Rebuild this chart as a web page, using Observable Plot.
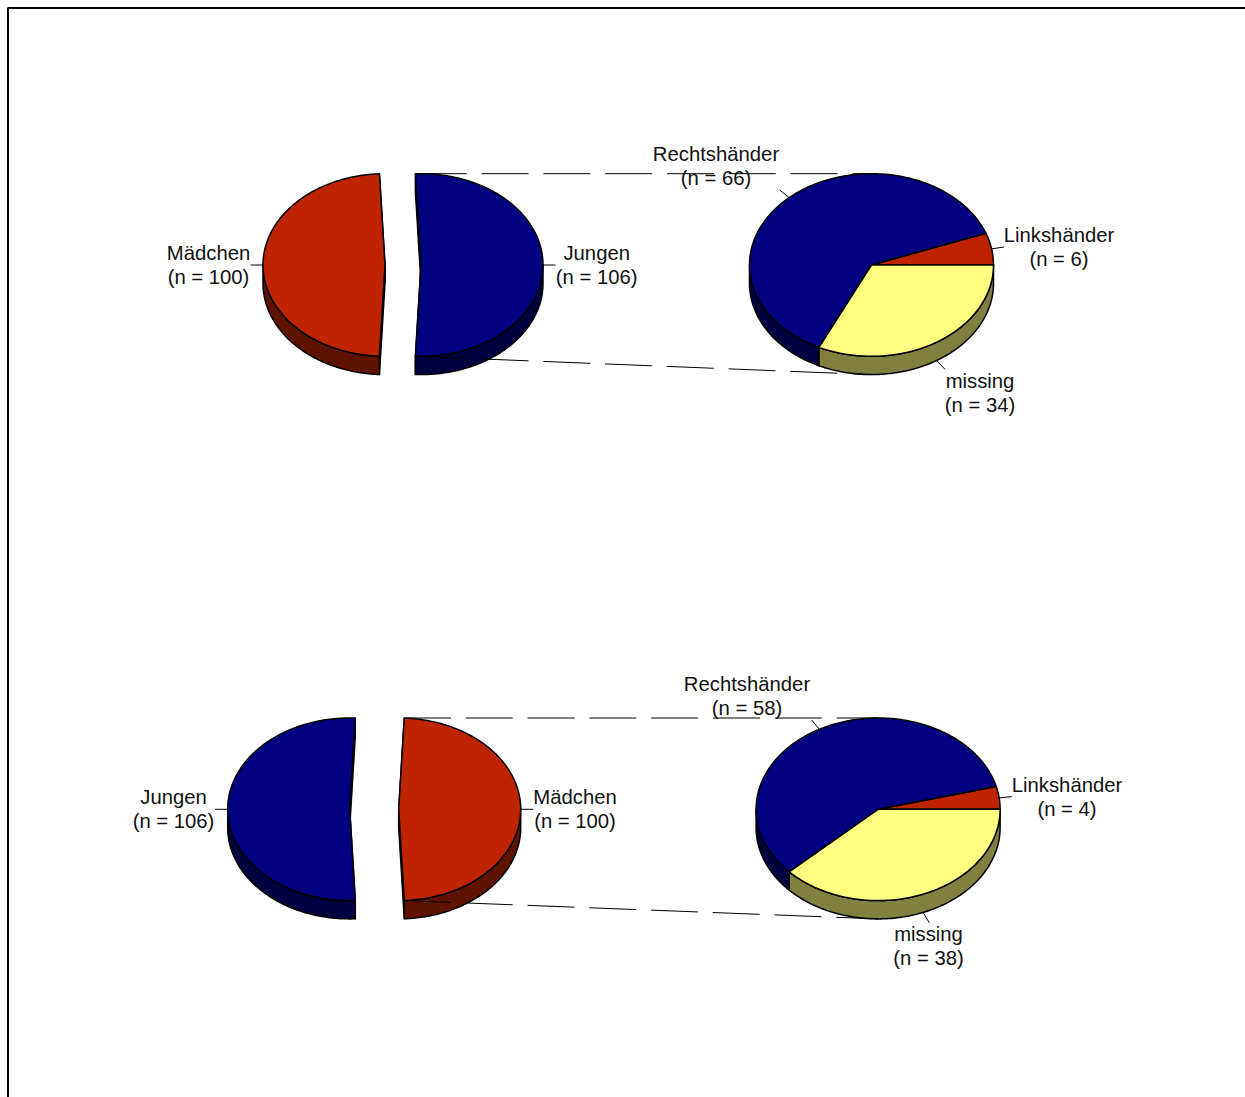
<!DOCTYPE html>
<html lang="de">
<head>
<meta charset="utf-8">
<title>Händigkeit nach Geschlecht</title>
<script src="https://cdn.jsdelivr.net/npm/d3@7"></script>
<script src="https://cdn.jsdelivr.net/npm/@observablehq/plot@0.6"></script>
<style>
  html, body { margin: 0; padding: 0; background: #fff; }
  svg { display: block; }
</style>
</head>
<body>
<div id="chart"></div>
<script>
// Sample sizes shown on the chart
const genderNames = ["Jungen", "Mädchen"];
const genderCountsUpper = [106, 100];
const genderCountsLower = [106, 100];
const handNames = ["Linkshänder", "Rechtshänder", "missing"];
const handCountsUpper = [6, 66, 34];
const handCountsLower = [4, 58, 38];

// Face and wall colours
const faceColors = { Jungen: "#000080", "Mädchen": "#bf2400", Linkshänder: "#bf2400", Rechtshänder: "#000080", missing: "#ffff80" };
const wallColors = { Jungen: "#000040", "Mädchen": "#601200", Linkshänder: "#601200", Rechtshänder: "#000040", missing: "#808040" };

// Pie layout
const WIDTH = 1245, HEIGHT = 1097;
const RX = 122, RY = 91.3, DEPTH = 18.3;
const fontSize = 20.3;

const ringPoint = (p, deg, drop = 0) => {
  const a = deg * Math.PI / 180;
  return [p.cx + RX * Math.cos(a), p.cy - RY * Math.sin(a) + drop];
};
const arc = (p, from, to, drop = 0) => {
  const n = Math.max(1, Math.ceil(Math.abs(to - from)));
  return d3.range(n + 1).map(i => ringPoint(p, from + (to - from) * i / n, drop));
};

// Closed polygon drawn with the line mark
const poly = (pts, fill) => Plot.line(pts, {
  x: d => d[0], y: d => d[1], curve: "linear-closed",
  fill, stroke: "#000", strokeWidth: 1.5, strokeLinejoin: "round"
});
const stroke = (pts, options = {}) => Plot.line(pts, {
  x: d => d[0], y: d => d[1], stroke: "#000", strokeWidth: 1, strokeLinecap: "butt", ...options
});

// Side wall of the part of a slice that faces the viewer
function rimWall(p, from, to, fill) {
  const spans = [[-180, 0], [180, 360]];
  return spans.flatMap(([lo, hi]) => {
    const a = Math.max(from, lo), b = Math.min(to, hi);
    return a < b ? [poly([...arc(p, a, b), ...arc(p, b, a, DEPTH)], fill)] : [];
  });
}

// One half of an exploded two-part pie: the slice is centred on `dir` degrees
function explodedSlice(p, name, count, total, dir) {
  const half = count / total * 180;
  const from = dir - half, to = dir + half;
  const wall = wallColors[name], center = [p.cx, p.cy], centerLow = [p.cx, p.cy + DEPTH];
  const cut = deg => poly([center, ringPoint(p, deg), ringPoint(p, deg, DEPTH), centerLow], wall);
  return {
    walls: [cut(from), cut(to), ...rimWall(p, from, to, wall)],
    face: [poly([center, ...arc(p, from, to)], faceColors[name])]
  };
}

// Three-part pie, slices run anticlockwise from the right-hand side
function wholePie(p, names, counts) {
  const total = d3.sum(counts);
  let start = 0;
  const walls = [], faces = [], mids = [];
  names.forEach((name, i) => {
    const end = start + counts[i] / total * 360;
    walls.push(...rimWall(p, start, end, wallColors[name]));
    faces.push(poly([[p.cx, p.cy], ...arc(p, start, end)], faceColors[name]));
    mids.push((start + end) / 2);
    start = end;
  });
  return { walls, faces, mids };
}

const label = (name, n) => `${name}\n(n = ${n})`;

// Builds one row: exploded gender pie on the left, handedness pie on the right
function row(cfg, genderCounts, handCounts) {
  const total = d3.sum(genderCounts);
  const slices = cfg.gender.map(g => {
    const i = genderNames.indexOf(g.name);
    return { ...g, n: genderCounts[i], s: explodedSlice(g.pie, g.name, genderCounts[i], total, g.dir) };
  });
  const whole = wholePie(cfg.hand, handNames, handCounts);
  const source = cfg.source;

  const leaders = [];
  slices.forEach(g => {
    leaders.push(stroke([ringPoint(g.pie, g.dir), g.leaderEnd]));
  });
  whole.mids.forEach((deg, i) => {
    const onRim = deg > 180 ? ringPoint(cfg.hand, deg, DEPTH) : ringPoint(cfg.hand, deg);
    leaders.push(stroke([onRim, cfg.handLeaderEnds[i]]));
  });

  const labels = [
    ...slices.map(g => ({ text: label(g.name, g.n), at: g.textAt })),
    ...handNames.map((name, i) => ({ text: label(name, handCounts[i]), at: cfg.handTextAt[i] }))
  ];

  return [
    ...slices.flatMap(g => g.s.walls),
    ...whole.walls,
    ...slices.flatMap(g => g.s.face),
    ...whole.faces,
    ...leaders,
    stroke([[source.x, cfg.hand.cy - RY], [cfg.hand.cx, cfg.hand.cy - RY]], { strokeDasharray: "47 14.8", strokeDashoffset: cfg.dashOffset }),
    stroke([[source.x, cfg.hand.cy + RY], [cfg.hand.cx, cfg.hand.cy + RY + DEPTH]], { strokeDasharray: "47 14.8", strokeDashoffset: cfg.dashOffset }),
    Plot.text(labels, {
      x: d => d.at[0], y: d => d.at[1], text: "text",
      fontFamily: "Liberation Sans, Arial, sans-serif", fontSize,
      lineHeight: 24 / fontSize, lineAnchor: "middle", textAnchor: "middle", fill: "#111"
    })
  ];
}

const upper = row({
  gender: [
    { name: "Jungen", pie: { cx: 421, cy: 265 }, dir: 0, leaderEnd: [555.5, 265], textAt: [596.7, 264] },
    { name: "Mädchen", pie: { cx: 385, cy: 265 }, dir: 180, leaderEnd: [250.5, 265], textAt: [208.5, 264] }
  ],
  hand: { cx: 871.5, cy: 265 },
  handLeaderEnds: [[1004, 247], [779.7, 190], [945, 369.3]],
  handTextAt: [[1059, 246], [716, 165], [980, 392]],
  source: { x: 415.5 },
  dashOffset: 57.5
}, genderCountsUpper, handCountsUpper);

const lower = row({
  gender: [
    { name: "Jungen", pie: { cx: 349.7, cy: 809.3 }, dir: 180, leaderEnd: [215, 809.3], textAt: [173.5, 808] },
    { name: "Mädchen", pie: { cx: 398.7, cy: 809.3 }, dir: 0, leaderEnd: [533, 809.3], textAt: [575, 808] }
  ],
  hand: { cx: 878.1, cy: 809.3 },
  handLeaderEnds: [[1011.7, 796.7], [811.7, 720], [929.3, 922.7]],
  handTextAt: [[1067, 796], [747, 695], [928.5, 945]],
  source: { x: 404 },
  dashOffset: 0
}, genderCountsLower, handCountsLower);

// Outer frame, open at the right and bottom page edges
const frame = stroke([[8, HEIGHT], [8, 8], [WIDTH, 8]], { strokeWidth: 2, strokeLinejoin: "miter" });

// Plot shifts marks by half a pixel at this pixel ratio; the range undoes it
const chart = Plot.plot({
  width: WIDTH,
  height: HEIGHT,
  margin: 0,
  x: { domain: [0, WIDTH], range: [-0.5, WIDTH - 0.5], axis: null },
  y: { domain: [0, HEIGHT], range: [-0.5, HEIGHT - 0.5], axis: null },
  style: { background: "#fff" },
  marks: [frame, ...upper, ...lower]
});
document.getElementById("chart").append(chart);
</script>
</body>
</html>
